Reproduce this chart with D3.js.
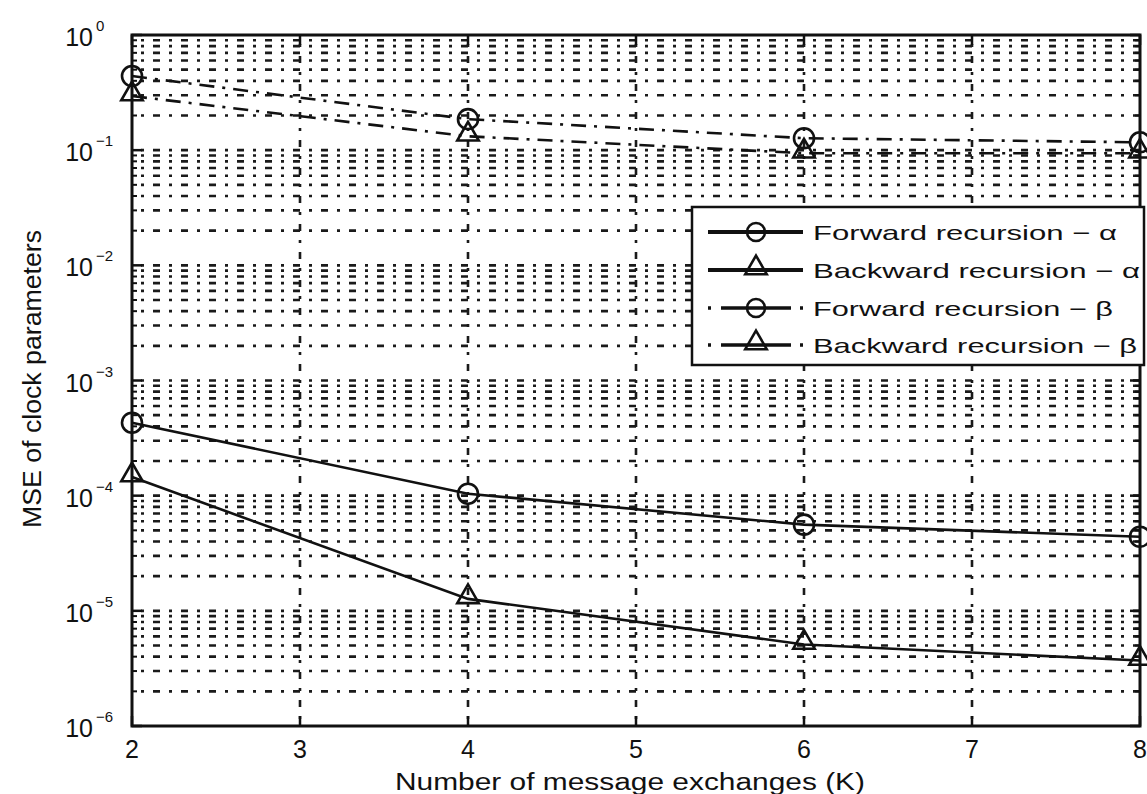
<!DOCTYPE html>
<html>
<head>
<meta charset="utf-8">
<script src="https://cdn.jsdelivr.net/npm/d3@7"></script>
<style>
  body { margin: 0; background: #fff; }
  text { font-family: "Liberation Sans", Arial, sans-serif; fill: #111; }
</style>
</head>
<body>
<svg id="chart"></svg>
<script>
const width = 1147;
const height = 794;

// data
const K = [2, 4, 6, 8];
const forwardAlpha = [4.3e-4, 1.04e-4, 5.6e-5, 4.4e-5];
const backwardAlpha = [1.45e-4, 1.27e-5, 5.1e-6, 3.7e-6];
const forwardBeta = [0.44, 0.186, 0.127, 0.117];
const backwardBeta = [0.295, 0.132, 0.094, 0.094];

const xTicks = [2, 3, 4, 5, 6, 7, 8];
const yTickExps = [0, -1, -2, -3, -4, -5, -6];
const seriesNames = ["Forward recursion \u2212 \u03b1", "Backward recursion \u2212 \u03b1",
                     "Forward recursion \u2212 \u03b2", "Backward recursion \u2212 \u03b2"];
const legendWidths = [304, 327, 300, 324];

const pLeft = 132, pRight = 1140, pTop = 35, pBottom = 726;

const x = d3.scaleLinear().domain([2, 8]).range([pLeft, pRight]);
const y = d3.scaleLog().domain([1e-6, 1]).range([pBottom, pTop]);

const svg = d3.select("#chart").attr("width", width).attr("height", height);

// minor values for the log grid
let minorVals = [];
for (let e = -6; e < 0; e++) {
    for (let m = 2; m <= 9; m++) minorVals.push(m * Math.pow(10, e));
}
const majorVals = yTickExps.map(e => Math.pow(10, e));

// grid (matlab dotted, looks like dot-dash once resampled)
const grid = svg.append("g")
    .attr("stroke", "#1a1a1a")
    .attr("stroke-width", 2.6)
    .attr("stroke-dasharray", "3,9,7,9")
    .attr("stroke-dashoffset", -9);

grid.selectAll(".hgrid")
    .data(minorVals.concat(majorVals.slice(1, 6)))
    .join("line")
    .attr("x1", pLeft).attr("x2", pRight)
    .attr("y1", d => y(d)).attr("y2", d => y(d));

grid.selectAll(".vgrid")
    .data(xTicks.slice(1, 6))
    .join("line")
    .attr("x1", d => x(d)).attr("x2", d => x(d))
    .attr("y1", pTop).attr("y2", pBottom);

// ticks (inward, on all four sides)
const ticks = svg.append("g").attr("stroke", "#111").attr("stroke-width", 2.5);
xTicks.forEach(t => {
    ticks.append("line").attr("x1", x(t)).attr("x2", x(t)).attr("y1", pBottom).attr("y2", pBottom - 10);
    ticks.append("line").attr("x1", x(t)).attr("x2", x(t)).attr("y1", pTop).attr("y2", pTop + 10);
});
majorVals.forEach(v => {
    ticks.append("line").attr("x1", pLeft).attr("x2", pLeft + 10).attr("y1", y(v)).attr("y2", y(v));
    ticks.append("line").attr("x1", pRight).attr("x2", pRight - 10).attr("y1", y(v)).attr("y2", y(v));
});
minorVals.forEach(v => {
    ticks.append("line").attr("x1", pLeft).attr("x2", pLeft + 5).attr("y1", y(v)).attr("y2", y(v)).attr("stroke-width", 2);
    ticks.append("line").attr("x1", pRight).attr("x2", pRight - 5).attr("y1", y(v)).attr("y2", y(v)).attr("stroke-width", 2);
});

// box
svg.append("rect")
    .attr("x", pLeft).attr("y", pTop)
    .attr("width", pRight - pLeft).attr("height", pBottom - pTop)
    .attr("fill", "none").attr("stroke", "#111").attr("stroke-width", 3);

// tick labels
svg.append("g").selectAll("text")
    .data(xTicks)
    .join("text")
    .attr("x", d => x(d)).attr("y", 758)
    .attr("text-anchor", "middle")
    .attr("font-size", 25)
    .text(d => d);

const yl = svg.append("g").selectAll("text")
    .data(yTickExps)
    .join("text")
    .attr("x", 93).attr("y", d => y(Math.pow(10, d)) + 11)
    .attr("text-anchor", "end")
    .attr("font-size", 25)
    .text("10");
svg.append("g").selectAll("text")
    .data(yTickExps)
    .join("text")
    .attr("x", 96).attr("y", d => y(Math.pow(10, d)) - 4)
    .attr("font-size", 15)
    .text(d => d === 0 ? "0" : "\u2212" + (-d));

// axis titles
svg.append("text")
    .attr("x", 395).attr("y", 790)
    .attr("font-family", "DejaVu Sans, sans-serif")
    .attr("font-size", 23)
    .attr("textLength", 470)
    .attr("lengthAdjust", "spacingAndGlyphs")
    .text("Number of message exchanges (K)");

svg.append("text")
    .attr("transform", "translate(41,528) rotate(-90)")
    .attr("font-family", "DejaVu Sans, sans-serif")
    .attr("font-size", 25)
    .attr("textLength", 298)
    .attr("lengthAdjust", "spacingAndGlyphs")
    .text("MSE of clock parameters");

// series
const series = [
    { vals: forwardAlpha, marker: "circle", dash: null },
    { vals: backwardAlpha, marker: "triangle", dash: null },
    { vals: forwardBeta, marker: "circle", dash: "15,8,3,8" },
    { vals: backwardBeta, marker: "triangle", dash: "15,8,3,8" }
];

const line = d3.line().x(d => x(d[0])).y(d => y(d[1]));
const triSym = d3.symbol().type(d3.symbolTriangle).size(200);

function drawMarker(g, cx, cy, type, small) {
    if (type === "circle") {
        g.append("circle").attr("cx", cx).attr("cy", cy).attr("r", small ? 9 : 10)
            .attr("fill", "none").attr("stroke", "#111").attr("stroke-width", 2.6);
    } else {
        g.append("path").attr("d", triSym()).attr("transform", `translate(${cx},${cy - 2})`)
            .attr("fill", "none").attr("stroke", "#111").attr("stroke-width", 2.6);
    }
}

const plot = svg.append("g");
series.forEach(s => {
    const pts = K.map((k, i) => [k, s.vals[i]]);
    plot.append("path")
        .attr("d", line(pts))
        .attr("fill", "none")
        .attr("stroke", "#111")
        .attr("stroke-width", 2.6)
        .attr("stroke-dasharray", s.dash);
    pts.forEach(p => drawMarker(plot, x(p[0]), y(p[1]), s.marker));
});

// legend
const lg = svg.append("g");
lg.append("rect")
    .attr("x", 692).attr("y", 207)
    .attr("width", 452).attr("height", 158)
    .attr("fill", "#fff").attr("stroke", "#111").attr("stroke-width", 2.5);

const legendY = [232, 270, 308, 345];
series.forEach((s, i) => {
    const ly = legendY[i];
    if (s.dash) {
        lg.append("line").attr("x1", 708).attr("x2", 803).attr("y1", ly).attr("y2", ly)
            .attr("stroke", "#111").attr("stroke-width", 3.5).attr("stroke-dasharray", "3,10,70,9,3");
    } else {
        lg.append("line").attr("x1", 708).attr("x2", 803).attr("y1", ly).attr("y2", ly)
            .attr("stroke", "#111").attr("stroke-width", 4);
    }
    drawMarker(lg, 756, ly, s.marker, true);
    lg.append("text")
        .attr("x", 813).attr("y", ly + 8)
        .attr("font-family", "DejaVu Sans, sans-serif")
        .attr("font-size", 21)
        .attr("textLength", legendWidths[i])
        .attr("lengthAdjust", "spacingAndGlyphs")
        .text(seriesNames[i]);
});
</script>
</body>
</html>
